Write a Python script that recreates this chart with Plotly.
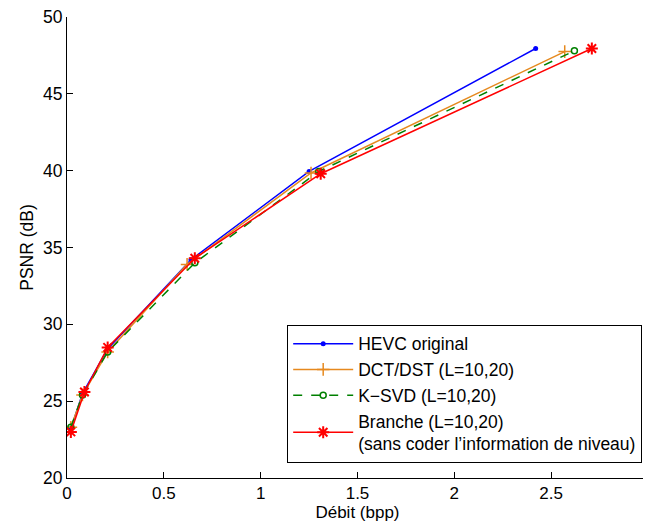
import plotly.graph_objects as go

hevc_x = [0.02, 0.08, 0.21, 0.64, 1.25, 2.42]
hevc_y = [23.2, 25.5, 28.4, 34.2, 39.95, 47.95]
dct_x = [0.02, 0.08, 0.21, 0.62, 1.26, 2.57]
dct_y = [23.3, 25.4, 28.2, 33.9, 39.85, 47.75]
ksvd_x = [0.02, 0.08, 0.21, 0.66, 1.30, 2.62]
ksvd_y = [23.3, 25.4, 28.2, 34.0, 39.95, 47.8]
br_x = [0.02, 0.09, 0.21, 0.66, 1.31, 2.71]
br_y = [23.0, 25.6, 28.5, 34.3, 39.8, 47.95]

xticks = [0, 0.5, 1, 1.5, 2, 2.5, 3]
xticklabels = ["0", "0.5", "1", "1.5", "2", "2.5", "3"]
yticks = [20, 25, 30, 35, 40, 45, 50]

FONT = "Liberation Sans, Arial, sans-serif"
FS = 17.5
FT = 17

fig = go.Figure()
fig.add_trace(go.Scatter(x=hevc_x, y=hevc_y, mode="lines+markers", name="HEVC original",
                         legendgroup="a",
                         line=dict(color="#0000FF", width=1.5),
                         marker=dict(symbol="circle", size=5, color="#0000FF")))
fig.add_trace(go.Scatter(x=dct_x, y=dct_y, mode="lines+markers", name="DCT/DST (L=10,20)",
                         legendgroup="b",
                         line=dict(color="#E6891E", width=1.5),
                         marker=dict(symbol="cross-thin", size=9, line=dict(color="#E6891E", width=1.5))))
fig.add_trace(go.Scatter(x=ksvd_x, y=ksvd_y, mode="lines+markers", name="K\u2212SVD (L=10,20)",
                         legendgroup="c",
                         line=dict(color="#008000", width=1.5, dash="dash"),
                         marker=dict(symbol="circle-open", size=6, line=dict(color="#008000", width=1.5))))
fig.add_trace(go.Scatter(x=br_x, y=br_y, mode="lines+markers",
                         name="Branche (L=10,20)<br>(sans coder l\u2019information de niveau)",
                         legendgroup="d",
                         line=dict(color="#FF0000", width=1.5),
                         marker=dict(symbol="asterisk-open", size=10, line=dict(color="#FF0000", width=2))))

fig.update_layout(
    width=651, height=522,
    margin=dict(l=59, r=11, t=9, b=52),
    paper_bgcolor="white", plot_bgcolor="white",
    font=dict(family=FONT, size=FT, color="black"),
    showlegend=True,
    legend=dict(x=0.99, y=0.033, xanchor="right", yanchor="bottom",
                bordercolor="black", borderwidth=1, bgcolor="white",
                font=dict(size=FS, family=FONT), tracegroupgap=0, itemwidth=60),
    xaxis=dict(range=[0, 3], tickvals=xticks, ticktext=xticklabels, ticks="inside",
               ticklen=6, tickcolor="black", showline=True, linecolor="black", linewidth=1,
               showgrid=False, zeroline=False, mirror=False, automargin=False,
               ticklabeloverflow="allow", tickfont=dict(size=FT),
               title=dict(text="Débit (bpp)", standoff=0, font=dict(size=FT))),
    yaxis=dict(range=[20, 50], tickvals=yticks, ticks="inside",
               ticklen=6, tickcolor="black", showline=True, linecolor="black", linewidth=1,
               showgrid=False, zeroline=False, mirror=False, automargin=False,
               ticklabeloverflow="allow", tickfont=dict(size=FS),
               title=dict(text="PSNR (dB)", standoff=4, font=dict(size=FS))),
)

fig.write_html("out.html")
